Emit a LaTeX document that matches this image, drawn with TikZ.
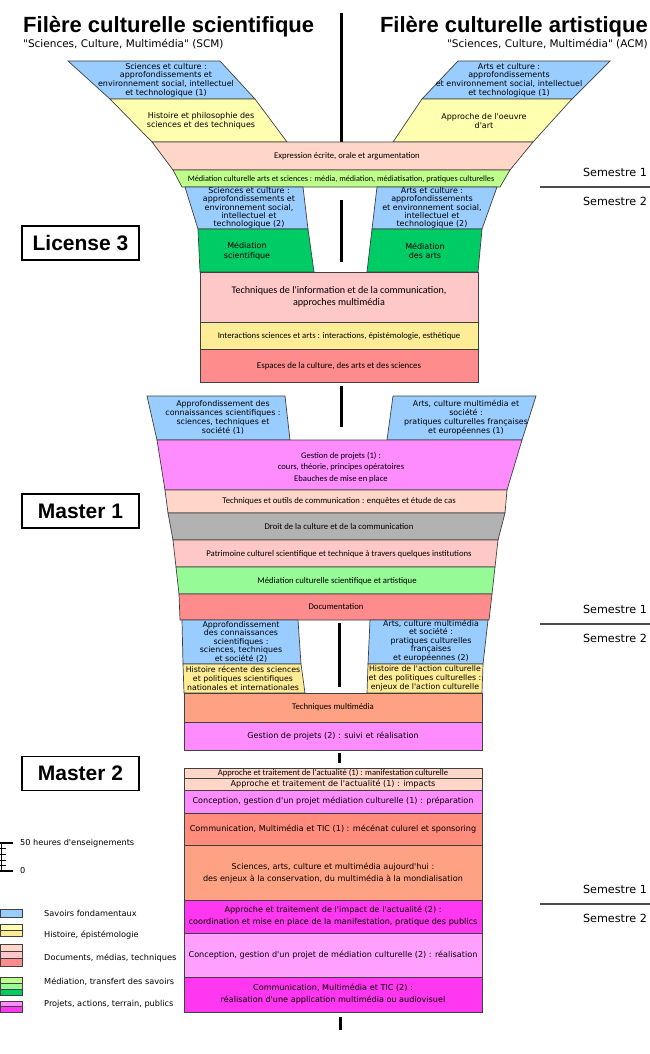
\documentclass[tikz,border=0pt]{standalone}
\usepackage{fontspec}
\setmainfont{DejaVu Sans}
\newfontfamily\dvfont{DejaVu Sans}
\newfontfamily\gillfont{Carlito}
\newfontfamily\headfont{Liberation Sans}
\usetikzlibrary{positioning}

\definecolor{savoir}{RGB}{153,204,255}
\definecolor{histA}{RGB}{255,255,176}
\definecolor{histB}{RGB}{255,236,150}
\definecolor{docA}{RGB}{255,214,200}
\definecolor{docB}{RGB}{255,200,200}
\definecolor{docC}{RGB}{255,140,140}
\definecolor{docD}{RGB}{255,162,132}
\definecolor{docE}{RGB}{255,140,125}
\definecolor{mediaA}{RGB}{190,255,140}
\definecolor{mediaB}{RGB}{150,250,150}
\definecolor{mediaC}{RGB}{0,204,102}
\definecolor{projA}{RGB}{255,140,255}
\definecolor{projB}{RGB}{255,55,240}
\definecolor{projC}{RGB}{255,160,255}
\definecolor{droit}{RGB}{178,178,178}

% colour band: fill, top left x, top right x, top y, bottom left x, bottom right x, bottom y
\newcommand{\quadfill}[7]{\filldraw[bandline, fill=#1] (#2,#4) -- (#3,#4) -- (#6,#7) -- (#5,#7) -- cycle;}

\tikzset{
  bandline/.style={draw=black!75, line width=0.7pt},
  axisline/.style={line width=3pt},
  semline/.style={line width=1.4pt, black!70},
  vtxt/.style={align=center, inner sep=0pt, font=\dvfont\fontsize{8}{8.7}\selectfont},
  ctxt/.style={align=center, inner sep=0pt, font=\gillfont\fontsize{8.7}{11.5}\selectfont},
  ltxt/.style={align=center, inner sep=0pt, font=\dvfont\fontsize{8.1}{12}\selectfont},
  titletxt/.style={inner sep=0pt, font=\headfont\bfseries\fontsize{22}{26}\selectfont},
  subtxt/.style={inner sep=0pt, font=\dvfont\fontsize{10.5}{12}\selectfont},
  semtxt/.style={inner sep=0pt, font=\dvfont\fontsize{11.2}{13}\selectfont},
  legtxt/.style={anchor=west, inner sep=0pt, font=\dvfont\fontsize{8.2}{10}\selectfont},
  levelbox/.style={draw, line width=1.5pt, minimum width=117pt, minimum height=34pt, inner sep=0pt, font=\headfont\bfseries\fontsize{21}{24}\selectfont}
}

\begin{document}
\begin{tikzpicture}[x=1pt, y=-1pt]
  \useasboundingbox (0,0) rectangle (650,1054);
  \fill[white] (0,0) rectangle (650,1054);

  % titres
  \node[titletxt, anchor=base west] (titleL) at (23,33) {Filère culturelle scientifique};
  \node[subtxt, anchor=base west] (subL) at (23,48) {"Sciences, Culture, Multimédia" (SCM)};
  \node[titletxt, anchor=base east] (titleR) at (648,33) {Filère culturelle artistique};
  \node[subtxt, anchor=base east] (subR) at (648,48) {"Sciences, Culture, Multimédia" (ACM)};

  % axe central
  \draw[axisline] (341,13) -- (341,142);
  \draw[axisline] (341,200) -- (341,262);
  \draw[axisline] (341,386) -- (341,427);
  \draw[axisline] (339,623) -- (339,687);
  \draw[axisline] (339,753) -- (339,763);
  \draw[axisline] (340,1017) -- (340,1030);

  % License 3, semestre 1
  \quadfill{savoir}{68}{220}{61}{110}{255}{99}
  \quadfill{histA}{110}{255}{99}{152}{287}{142}
  \quadfill{savoir}{458}{610}{61}{422}{572}{99}
  \quadfill{histA}{422}{572}{99}{393}{533}{142}
  \quadfill{docA}{152}{533}{142}{173}{510}{170}
  \quadfill{mediaA}{173}{510}{170}{182}{500}{187}
  \node[vtxt] (sciA) at (166,80) {Sciences et culture :\\approfondissements et\\environnement social, intellectuel\\et technologique (1)};
  \node[vtxt] (histphil) at (201,121) {Histoire et philosophie des\\sciences et des techniques};
  \node[vtxt] (artA) at (509,80) {Arts et culture :\\approfondissements\\et environnement social, intellectuel\\et technologique (1)};
  \node[vtxt] (oeuvre) at (484,121) {Approche de l'oeuvre\\d'art};
  \node[ctxt] (expr) at (347,156) {Expression écrite, orale et argumentation};
  \node[ctxt, font=\gillfont\fontsize{8.2}{9}\selectfont] (medcult) at (341,179) {Médiation culturelle arts et sciences : média, médiation, médiatisation, pratiques culturelles};

  % License 3, semestre 2
  \quadfill{savoir}{185}{303}{187}{198}{308}{229}
  \quadfill{mediaC}{198}{308}{229}{200}{314}{272}
  \quadfill{savoir}{377}{497}{187}{372}{482}{229}
  \quadfill{mediaC}{372}{482}{229}{367}{478}{272}
  \quadfill{docB}{200}{478}{272}{200}{478}{322}
  \quadfill{histB}{200}{478}{322}{200}{478}{349}
  \quadfill{docC}{200}{478}{349}{200}{478}{382}
  \node[vtxt, font=\dvfont\fontsize{8}{8.3}\selectfont] (sciB) at (249,208) {Sciences et culture :\\approfondissements et\\environnement social,\\intellectuel et\\technologique (2)};
  \node[vtxt, font=\dvfont\fontsize{8}{8.3}\selectfont] (artB) at (432,208) {Arts et culture :\\approfondissements\\et environnement social,\\intellectuel et\\technologique (2)};
  \node[vtxt, font=\dvfont\fontsize{8}{9.5}\selectfont] (medsci) at (247,251) {Médiation\\scientifique};
  \node[vtxt, font=\dvfont\fontsize{8}{9.5}\selectfont] (medart) at (425,251) {Médiation\\des arts};
  \node[ctxt, font=\gillfont\fontsize{10.1}{12}\selectfont] (tic) at (339,297) {Techniques de l'information et de la communication,\\approches multimédia};
  \node[ctxt] (interact) at (339,336) {Interactions sciences et arts : interactions, épistémologie, esthétique};
  \node[ctxt, font=\gillfont\fontsize{8.9}{11}\selectfont] (espaces) at (339,366) {Espaces de la culture, des arts et des sciences};

  % Master 1, semestre 1
  \quadfill{savoir}{147}{285}{396}{157}{290}{440}
  \quadfill{savoir}{393}{536}{396}{387}{522}{440}
  \quadfill{projA}{157}{522}{440}{165}{507}{490}
  \quadfill{docA}{165}{507}{490}{168}{505}{513}
  \quadfill{droit}{168}{505}{513}{173}{498}{540}
  \quadfill{docB}{173}{498}{540}{176}{495}{567}
  \quadfill{mediaB}{176}{495}{567}{179}{492}{594}
  \quadfill{docC}{179}{492}{594}{180}{489}{620}
  \node[vtxt, font=\dvfont\fontsize{7.9}{9}\selectfont] (approA) at (223,418) {Approfondissement des\\connaissances scientifiques :\\sciences, techniques et\\société (1)};
  \node[vtxt, font=\dvfont\fontsize{7.9}{9}\selectfont] (artsocA) at (466,418) {Arts, culture multimédia et\\société :\\pratiques culturelles françaises\\et européennes (1)};
  \node[ctxt, font=\gillfont\fontsize{8.6}{11.8}\selectfont] (gestA) at (341,467.5) {Gestion de projets (1) :\\cours, théorie, principes opératoires\\Ebauches de mise en place};
  \node[ctxt] (outils) at (339,501.5) {Techniques et outils de communication : enquêtes et étude de cas};
  \node[ctxt] (droitcom) at (339,527) {Droit de la culture et de la communication};
  \node[ctxt] (patri) at (339,554) {Patrimoine culturel scientifique et technique à travers quelques institutions};
  \node[ctxt] (medsa) at (337,581) {Médiation culturelle scientifique et artistique};
  \node[ctxt] (docum) at (336,607) {Documentation};

  % Master 1, semestre 2
  \quadfill{savoir}{182}{298}{620}{183}{301}{664}
  \quadfill{histB}{183}{301}{664}{184}{305}{693}
  \quadfill{savoir}{370}{488}{620}{368}{483}{664}
  \quadfill{histB}{368}{483}{664}{367}{482}{693}
  \quadfill{docD}{184}{482}{693}{184}{482}{722}
  \quadfill{projA}{184}{482}{722}{184}{482}{750}
  \node[vtxt, font=\dvfont\fontsize{7.9}{8.5}\selectfont] (approB) at (241,642) {Approfondissement\\des connaissances\\scientifiques :\\sciences, techniques\\et société (2)};
  \node[vtxt, font=\dvfont\fontsize{7.8}{9}\selectfont] (histrec) at (243,678) {Histoire récente des sciences\\et politiques scientifiques\\nationales et internationales};
  \node[vtxt, font=\dvfont\fontsize{7.9}{8.5}\selectfont] (artsocB) at (431,641) {Arts, culture multimédia\\et société :\\pratiques culturelles\\françaises\\et européennes (2)};
  \node[vtxt, font=\dvfont\fontsize{7.8}{9}\selectfont] (histact) at (425,678) {Histoire de l'action culturelle\\et des politiques culturelles :\\enjeux de l'action culturelle};
  \node[ctxt] (techmm) at (333,707.5) {Techniques multimédia};
  \node[ltxt] (gestB) at (333,736) {Gestion de projets (2) : suivi et réalisation};

  % Master 2
  \quadfill{docA}{184}{482}{768}{184}{482}{778}
  \quadfill{docA}{184}{482}{778}{184}{482}{790}
  \quadfill{projA}{184}{482}{790}{184}{482}{813}
  \quadfill{docE}{184}{482}{813}{184}{482}{845}
  \quadfill{docD}{184}{482}{845}{184}{482}{900}
  \quadfill{projB}{184}{482}{900}{184}{482}{933}
  \quadfill{projC}{184}{482}{933}{184}{482}{977}
  \quadfill{projB}{184}{482}{977}{184}{482}{1012}
  \node[ctxt, font=\gillfont\fontsize{8.6}{9}\selectfont] (actuA) at (333,773) {Approche et traitement de l'actualité (1) : manifestation culturelle};
  \node[ltxt] (actuB) at (333,784) {Approche et traitement de l'actualité (1) : impacts};
  \node[ltxt] (concA) at (333,801.5) {Conception, gestion d'un projet médiation culturelle (1) : préparation};
  \node[ltxt] (commA) at (333,829) {Communication, Multimédia et TIC (1) : mécénat culurel et sponsoring};
  \node[ltxt] (sciarts) at (333,873) {Sciences, arts, culture et multimédia aujourd'hui :\\des enjeux à la conservation, du multimédia à la mondialisation};
  \node[ltxt] (impact) at (333,916.5) {Approche et traitement de l'impact de l'actualité (2) :\\coordination et mise en place de la manifestation, pratique des publics};
  \node[ltxt] (concB) at (333,955) {Conception, gestion d'un projet de médiation culturelle (2) : réalisation};
  \node[ltxt] (commB) at (333,994.5) {Communication, Multimédia et TIC (2) :\\réalisation d'une application multimédia ou audiovisuel};

  % niveaux
  \node[levelbox] (lic3) at (80.5,243) {License 3};
  \node[levelbox] (mas1) at (80.5,511) {Master 1};
  \node[levelbox] (mas2) at (80.5,773.5) {Master 2};

  % semestres
  \coordinate (semA) at (615,187);
  \coordinate (semB) at (615,624);
  \coordinate (semC) at (615,904);
  \draw[semline] (540,187) -- (650,187);
  \draw[semline] (540,624) -- (650,624);
  \draw[semline] (540,904) -- (650,904);
  \node[semtxt, above=10pt of semA] (semA1) {Semestre 1};
  \node[semtxt, below=10pt of semA] (semA2) {Semestre 2};
  \node[semtxt, above=10pt of semB] (semB1) {Semestre 1};
  \node[semtxt, below=10pt of semB] (semB2) {Semestre 2};
  \node[semtxt, above=10pt of semC] (semC1) {Semestre 1};
  \node[semtxt, below=10pt of semC] (semC2) {Semestre 2};

  % echelle
  \draw[line width=1pt] (1,843) -- (1,871);
  \draw[line width=1.4pt] (0,843) -- (13,843);
  \draw[line width=1.4pt] (0,871) -- (13,871);
  \draw[line width=0.6pt] (0,848.6) -- (6,848.6) (0,854.2) -- (6,854.2) (0,859.8) -- (6,859.8) (0,865.4) -- (6,865.4);
  \node[legtxt] (scale50) at (20,843) {50 heures d'enseignements};
  \node[legtxt] (scale0) at (20,871) {0};

  % legende
  \quadfill{savoir}{0}{22}{909}{0}{22}{917}
  \quadfill{histA}{0}{22}{924}{0}{22}{930}
  \quadfill{histB}{0}{22}{930}{0}{22}{936}
  \quadfill{docA}{0}{22}{944}{0}{22}{951}
  \quadfill{docB}{0}{22}{951}{0}{22}{958}
  \quadfill{docC}{0}{22}{958}{0}{22}{966}
  \quadfill{mediaA}{0}{22}{977}{0}{22}{983}
  \quadfill{mediaB}{0}{22}{983}{0}{22}{989}
  \quadfill{mediaC}{0}{22}{989}{0}{22}{995}
  \quadfill{projA}{0}{22}{1001}{0}{22}{1006}
  \quadfill{projB}{0}{22}{1006}{0}{22}{1012}
  \node[legtxt] (legsav) at (44,913) {Savoirs fondamentaux};
  \node[legtxt] (leghist) at (44,935) {Histoire, épistémologie};
  \node[legtxt] (legdoc) at (44,958) {Documents, médias, techniques};
  \node[legtxt] (legmed) at (44,982) {Médiation, transfert des savoirs};
  \node[legtxt] (legproj) at (44,1004) {Projets, actions, terrain, publics};
\end{tikzpicture}
\end{document}
